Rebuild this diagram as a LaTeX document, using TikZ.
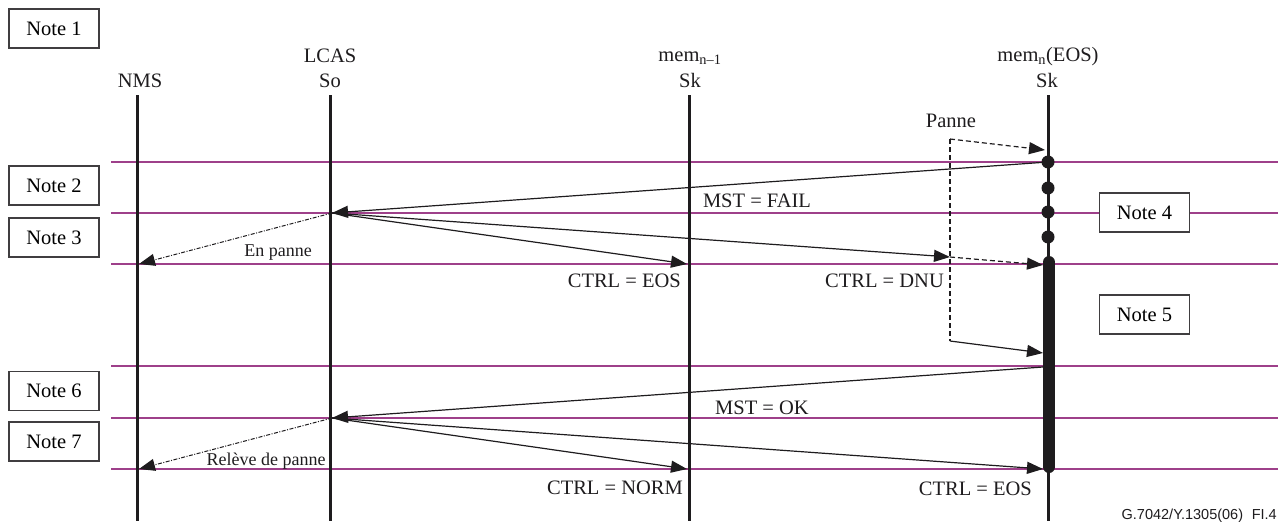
\documentclass[tikz,border=0pt]{standalone}
\usepackage{fontspec}
\setmainfont{Liberation Serif}
\newfontfamily\footfont{Liberation Sans}
\usetikzlibrary{arrows.meta}
\definecolor{plum}{RGB}{158,64,138}
\definecolor{ink}{RGB}{30,28,30}
\begin{document}
\begin{tikzpicture}[x=1pt,y=-1pt,
  life/.style={line width=3pt, ink},
  phase/.style={line width=2.2pt, plum},
  note/.style={draw=ink!85, line width=1.2pt, fill=white, minimum width=90pt, minimum height=39pt, inner sep=0pt, font=\fontsize{20.5}{24}\selectfont},
  lbl/.style={font=\fontsize{20.5}{24}\selectfont, inner sep=0pt, text=ink},
  small/.style={font=\fontsize{18}{22}\selectfont, inner sep=0pt, text=ink},
  tip/.style={-{Triangle[length=16pt,width=12pt]}},
  msg/.style={line width=1.2pt, ink, tip},
  faildash/.style={line width=1.2pt, ink, dash pattern=on 5pt off 3pt},
  dashdot/.style={line width=1pt, ink, dash pattern=on 4pt off 1.5pt on 1pt off 1.5pt, tip},
  dot/.style={circle, fill=ink, minimum size=13pt, inner sep=0pt}
]
\useasboundingbox (0,0) rectangle (1278,522);

% phase lines
\foreach \yy in {162,213,264,366,418,469}{
  \draw[phase] (111,\yy) -- (1278,\yy);
}

% lifelines
\coordinate (nmsT) at (137,95);  \coordinate (nmsB) at (137,521);
\coordinate (soT)  at (330,95);  \coordinate (soB)  at (330,521);
\coordinate (skaT) at (689,95);  \coordinate (skaB) at (689,521);
\coordinate (skbT) at (1048,95); \coordinate (skbB) at (1048,521);
\draw[life] (nmsT) -- (nmsB);
\draw[life] (soT) -- (soB);
\draw[life] (skaT) -- (skaB);
\draw[life] (skbT) -- (skbB);

% thick bar on mem_n
\coordinate (barT) at (1049,262);
\coordinate (barB) at (1049,467);
\draw[line width=12pt, line cap=round, ink] (barT) -- (barB);

% dots
\node[dot] (d1) at (1048,162) {};
\node[dot] (d2) at (1048,188) {};
\node[dot] (d3) at (1048,212) {};
\node[dot] (d4) at (1048,237) {};

% headers
\node[lbl, anchor=base] (hnms) at (140,87) {NMS};
\node[lbl, anchor=base] (hlcas) at (330,62) {LCAS};
\node[lbl, anchor=base] (hso) at (330,87) {So};
\node[lbl, anchor=base] (hmema) at (690,61) {mem\textsubscript{n–1}};
\node[lbl, anchor=base] (hska) at (690,87) {Sk};
\node[lbl, anchor=base] (hmemb) at (1048,61) {mem\textsubscript{n}(EOS)};
\node[lbl, anchor=base] (hskb) at (1047,87) {Sk};

% notes
\node[note] (n1) at (54,28.5) {Note 1};
\node[note] (n2) at (54,185.5) {Note 2};
\node[note] (n3) at (54,237.5) {Note 3};
\node[note] (n6) at (54,391) {Note 6};
\node[note] (n7) at (54,441.5) {Note 7};
\node[note] (n4) at (1144.5,212.5) {Note 4};
\node[note] (n5) at (1144.5,314.5) {Note 5};

% message end points
\coordinate (so1) at (332,213);
\coordinate (so2) at (332,418);
\coordinate (ska1) at (687,264);
\coordinate (ska2) at (687,469);
\coordinate (nms1) at (139,264);
\coordinate (nms2) at (139,469);
\coordinate (pTop) at (950,139);
\coordinate (pDnu) at (950,257);
\coordinate (pBot) at (950,341);
\coordinate (skb0) at (1045,150);
\coordinate (skb1) at (1043,265);
\coordinate (skb2) at (1043,353);
\coordinate (skb3) at (1043,367);
\coordinate (skb4) at (1043,469);

% messages
\draw[msg] (d1.center) -- (so1);
\draw[msg] (so1) -- (ska1);
\draw[msg] (so1) -- (pDnu);
\draw[dashdot] (so1) -- (nms1);
\draw[faildash] (pTop) -- (pBot);
\draw[faildash, tip] (pTop) -- (skb0);
\draw[faildash, tip] (pDnu) -- (skb1);
\draw[msg] (pBot) -- (skb2);
\draw[msg] (skb3) -- (so2);
\draw[msg] (so2) -- (ska2);
\draw[msg] (so2) -- (skb4);
\draw[dashdot] (so2) -- (nms2);

% labels
\node[lbl, anchor=base] (lfail) at (757,207) {MST = FAIL};
\node[lbl, anchor=base east] (leos1) at (681,287) {CTRL = EOS};
\node[lbl, anchor=base east] (ldnu) at (944,287) {CTRL = DNU};
\node[lbl, anchor=base] (lpanne) at (951,127) {Panne};
\node[small, anchor=base] (lenp) at (278,256) {En panne};
\node[lbl, anchor=base] (lok) at (762,414) {MST = OK};
\node[lbl, anchor=base east] (lnorm) at (683,494) {CTRL = NORM};
\node[lbl, anchor=base east] (leos2) at (1032,495) {CTRL = EOS};
\node[small, anchor=base] (lrel) at (266,465) {Relève de panne};
\node[inner sep=0pt, anchor=base east, font=\footfont\fontsize{14.5}{16}\selectfont, text=ink] (foot) at (1277,519) {G.7042/Y.1305(06)\hspace{0.6em}FI.4};
\end{tikzpicture}
\end{document}
